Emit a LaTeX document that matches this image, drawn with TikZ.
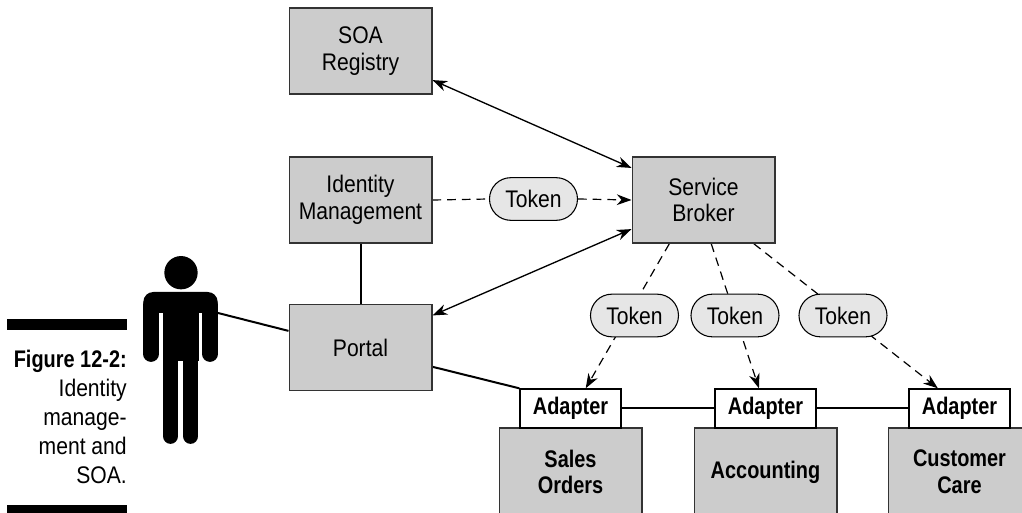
\documentclass[tikz,border=0pt]{standalone}
\usepackage{fontspec}
\setmainfont[FakeStretch=0.88,BoldFeatures={FakeStretch=0.83}]{Liberation Sans}
\usetikzlibrary{arrows.meta,shapes.misc,backgrounds}
\definecolor{boxgray}{HTML}{CCCCCC}
\definecolor{tokengray}{HTML}{E6E6E6}
\definecolor{boxline}{HTML}{333333}
\tikzset{
    labeltext/.style={font=\fontsize{18pt}{20pt}\selectfont, align=center, inner sep=0pt},
    servicebox/.style={labeltext, draw=boxline, line width=1pt, fill=boxgray, minimum width=107pt, minimum height=64.5pt},
    systembox/.style={servicebox, font=\fontsize{18pt}{20pt}\selectfont\bfseries, minimum height=66pt},
    adapterbox/.style={labeltext, font=\fontsize{18pt}{20pt}\selectfont\bfseries, draw=black, line width=1pt, fill=white, minimum width=75.75pt, minimum height=29.25pt},
    tokenpill/.style={labeltext, rounded rectangle, draw=black, line width=0.8pt, fill=tokengray, minimum width=66pt, minimum height=32pt},
    solidlink/.style={line width=1.5pt},
    arrowlink/.style={line width=1pt, {Stealth[length=11pt,width=8pt,inset=3.5pt]}-{Stealth[length=11pt,width=8pt,inset=3.5pt]}},
    tokenlink/.style={line width=0.9pt, dash pattern=on 6.5pt off 4.5pt},
    tokenarrow/.style={tokenlink, -{Stealth[length=11pt,width=8pt,inset=3.5pt]}},
    limb/.style={line width=11.8pt, line cap=round}
}
\begin{document}
\begin{tikzpicture}[x=0.75pt,y=-0.75pt]
    \useasboundingbox (0,0) rectangle (1022,513);
    \clip (0,0) rectangle (1022,513);

    \node[servicebox] (registry) at (360.5,51) {SOA\\Registry};
    \node[servicebox] (identity) at (360.5,200) {Identity\\Management};
    \node[servicebox] (portal) at (360.5,347.5) {Portal};
    \node[servicebox] (broker) at (703.5,200) {Service\\Broker};

    \node[tokenpill] (tokenid) at (533.5,199) {Token};
    \node[tokenpill] (tokensales) at (634.5,315.5) {Token};
    \node[tokenpill] (tokenacct) at (735,315.5) {Token};
    \node[tokenpill] (tokencare) at (843,315.5) {Token};

    \node[systembox] (sales) at (570.5,472) {Sales\\Orders};
    \node[systembox] (acct) at (765.5,472) {Accounting};
    \node[systembox] (care) at (959.5,472) {Customer\\Care};
    \node[adapterbox] (adsales) at (570.5,408.5) {Adapter};
    \node[adapterbox] (adacct) at (765.5,408.5) {Adapter};
    \node[adapterbox] (adcare) at (959.5,408.5) {Adapter};

    \fill (181,272.7) circle (12.5pt);
    \fill[rounded corners=7.5pt] (143.3,313) -- (143.3,292) -- (217.7,292) -- (217.7,313) -- cycle;
    \fill (162.7,300) rectangle (198.5,361);
    \draw[limb] (151.1,305) -- (151.1,354);
    \draw[limb] (209.9,305) -- (209.9,354);
    \draw[limb] (170.5,355) -- (170.5,436);
    \draw[limb] (190.6,355) -- (190.6,436);
    \coordinate (hand) at (218,313);

    \fill (7,319) rectangle (127,330);
    \fill (7,505) rectangle (127,513);
    \node[anchor=north east, align=right, inner sep=0pt, font=\fontsize{18pt}{21.8pt}\selectfont] (caption) at (127,350)
        {\textbf{Figure 12-2:}\\Identity\\manage-\\ment and\\SOA.};

    \begin{scope}[on background layer]
        \draw[solidlink] (hand) -- (portal.167.4);
        \draw[solidlink] (identity.south) -- (portal.north);
        \draw[solidlink] (portal.-15.3) -- (adsales.north west);
        \draw[solidlink] (adsales.east) -- (adacct.west);
        \draw[solidlink] (adacct.east) -- (adcare.west);
        \draw[arrowlink] (registry.-22.5) -- (broker.156.6);
        \draw[arrowlink] (portal.24.1) -- (broker.-158.6);
        \draw[tokenlink] (identity.east) -- (tokenid.west);
        \draw[tokenarrow] (tokenid.east) -- (broker.west);
        \draw[tokenarrow] (broker.-128) -- (adsales.53.4);
        \draw[tokenarrow] (broker.-80) -- (adacct.108.4);
        \draw[tokenarrow] (broker.-41.6) -- (adcare.137.8);
    \end{scope}
\end{tikzpicture}
\end{document}
